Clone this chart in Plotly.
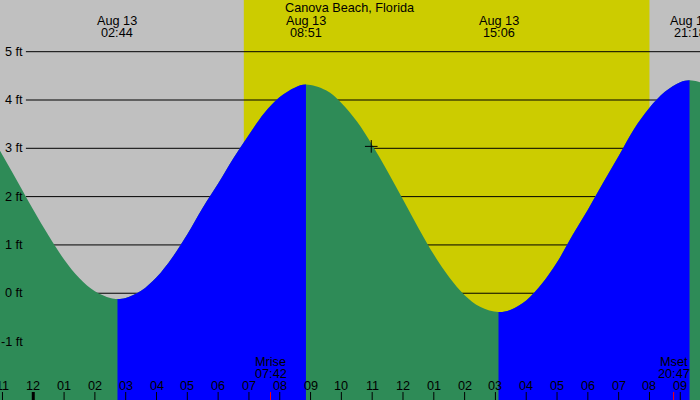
"""
Tide chart for Canova Beach, Florida (Aug 13) drawn with Plotly.
"""

import plotly.graph_objects as go

STATION = "Canova Beach, Florida"
DATE_LABEL = "Aug 13"

# Tide curve: hours from midnight Aug 13, height in ft
TIDE_HOURS = [-1.08, -0.5, 0, 0.5, 1, 1.5, 2, 2.5, 2.733,
              3, 3.5, 4, 4.5, 5, 5.5, 6, 6.5, 7, 7.5, 8, 8.5, 8.85,
              9.5, 10, 10.5, 11, 11.5, 12, 12.5, 13, 13.5, 14, 14.5, 15.1,
              15.5, 16, 16.5, 17, 17.5, 18, 18.5, 19, 19.5, 20, 20.5, 21, 21.3, 21.64]
TIDE_FT = [2.95, 2.30, 1.73, 1.19, 0.70, 0.31, 0.04, -0.10, -0.12,
           -0.10, 0.05, 0.33, 0.73, 1.22, 1.77, 2.27, 2.80, 3.28, 3.73, 4.06, 4.26, 4.32,
           4.20, 3.94, 3.56, 3.07, 2.52, 1.94, 1.35, 0.80, 0.33, -0.04, -0.28, -0.39,
           -0.34, -0.15, 0.19, 0.64, 1.20, 1.73, 2.29, 2.84, 3.40, 3.84, 4.17, 4.37, 4.41, 4.37]

# High / low tide times (labels at the top)
EXTREME_CLOCK = ["02:44", "08:51", "15:06", "21:18"]

SUNRISE = "06:50"
SUNSET = "20:00"
MOONRISE = "07:42"
MOONSET = "20:47"

# Current-time marker
NOW_HOURS = 10.97
NOW_FT = 3.04

Y_TICKS = [-1, 0, 1, 2, 3, 4, 5]
HOUR_TICKS = list(range(-1, 22))
HOUR_LABELS = ["11", "12", "01", "02", "03", "04", "05", "06", "07", "08", "09", "10",
               "11", "12", "01", "02", "03", "04", "05", "06", "07", "08", "09"]

X_RANGE = [-1.08, 21.64]
Y_RANGE = [-2.21, 6.07]

GRAY = "#c0c0c0"
YELLOW = "#cccc00"
GREEN = "#2e8b57"
BLUE = "#0000ff"
FONT = dict(family="Liberation Sans", size=12.7, color="black")


def to_hours(clock):
    hh, mm = clock.split(":")
    return int(hh) + int(mm) / 60


def py(px):
    # pixel row -> paper coordinate (400 px tall figure)
    return 1 - px / 400


extremes = [to_hours(c) for c in EXTREME_CLOCK]

fig = go.Figure()

# Falling tide (green) over the whole range
fig.add_trace(go.Scatter(x=X_RANGE, y=[-3, -3], mode="lines", line=dict(width=0),
                         hoverinfo="skip", showlegend=False))
fig.add_trace(go.Scatter(x=TIDE_HOURS, y=TIDE_FT, mode="lines",
                         line=dict(width=0, shape="spline"),
                         fill="tonexty", fillcolor=GREEN, showlegend=False))

# Rising tide (blue): same curve, clipped to low->high windows via hidden axes
rising = [(extremes[0], extremes[1]), (extremes[2], extremes[3])]
span = X_RANGE[1] - X_RANGE[0]
for i, (t0, t1) in enumerate(rising):
    ax = "x%d" % (i + 2)
    fig.update_layout({
        "xaxis%d" % (i + 2): dict(
            domain=[(t0 - X_RANGE[0]) / span, (t1 - X_RANGE[0]) / span],
            range=[t0, t1], visible=False, anchor="y", fixedrange=True)
    })
    fig.add_trace(go.Scatter(x=X_RANGE, y=[-3, -3], xaxis=ax, yaxis="y", mode="lines",
                             line=dict(width=0), hoverinfo="skip", showlegend=False))
    fig.add_trace(go.Scatter(x=TIDE_HOURS, y=TIDE_FT, xaxis=ax, yaxis="y", mode="lines",
                             line=dict(width=0, shape="spline"),
                             fill="tonexty", fillcolor=BLUE, showlegend=False))

fig.add_trace(go.Scatter(x=[NOW_HOURS], y=[NOW_FT], mode="markers",
                         marker=dict(symbol="cross-thin", size=9,
                                     line=dict(color="black", width=1)),
                         showlegend=False))

# Day (yellow) band and grid lines sit under the tide fills
shapes = [dict(type="rect", xref="x", yref="paper", x0=to_hours(SUNRISE), x1=to_hours(SUNSET),
               y0=0, y1=1, fillcolor=YELLOW, line=dict(width=0), layer="below")]
for v in Y_TICKS:
    shapes.append(dict(type="line", xref="paper", yref="y", x0=0.037, x1=1, y0=v, y1=v,
                       line=dict(color="black", width=1), layer="below"))

# Hour ticks along the bottom edge (thick one at midnight)
for h in HOUR_TICKS:
    shapes.append(dict(type="line", xref="x", yref="paper", x0=h, x1=h, y0=0, y1=0.02,
                       line=dict(color="black", width=3 if h == 0 else 1)))
for m in (MOONRISE, MOONSET):
    shapes.append(dict(type="line", xref="x", yref="paper", x0=to_hours(m), x1=to_hours(m),
                       y0=0, y1=0.02, line=dict(color="red", width=1)))

annotations = [dict(text=STATION, xref="paper", yref="paper", x=0.5, y=py(8.5),
                    showarrow=False, yanchor="middle", font=FONT)]
for t, c in zip(extremes, EXTREME_CLOCK):
    annotations.append(dict(text=DATE_LABEL, xref="x", yref="paper", x=t, y=py(20.5),
                            showarrow=False, yanchor="middle", font=FONT))
    annotations.append(dict(text=c, xref="x", yref="paper", x=t, y=py(32.5),
                            showarrow=False, yanchor="middle", font=FONT))
for name, c in (("Mrise", MOONRISE), ("Mset", MOONSET)):
    annotations.append(dict(text=name, xref="x", yref="paper", x=to_hours(c), y=py(362),
                            showarrow=False, yanchor="middle", font=FONT))
    annotations.append(dict(text=c, xref="x", yref="paper", x=to_hours(c), y=py(374),
                            showarrow=False, yanchor="middle", font=FONT))
for h, lab in zip(HOUR_TICKS, HOUR_LABELS):
    annotations.append(dict(text=lab, xref="x", yref="paper", x=h, y=py(385.5),
                            showarrow=False, yanchor="middle", font=FONT))
for v in Y_TICKS:
    annotations.append(dict(text="%d ft" % v, xref="paper", yref="y", x=0.036, y=v,
                            xanchor="right", yanchor="middle", showarrow=False, font=FONT))

fig.update_layout(
    width=700, height=400,
    margin=dict(l=0, r=0, t=0, b=0),
    paper_bgcolor=GRAY, plot_bgcolor="rgba(0,0,0,0)",
    xaxis=dict(range=X_RANGE, visible=False, fixedrange=True),
    yaxis=dict(range=Y_RANGE, visible=False, fixedrange=True),
    shapes=shapes,
    annotations=annotations,
    showlegend=False,
)

fig.write_html("out.html", config={"displayModeBar": False},
               post_script="document.body.style.margin = '0';")
